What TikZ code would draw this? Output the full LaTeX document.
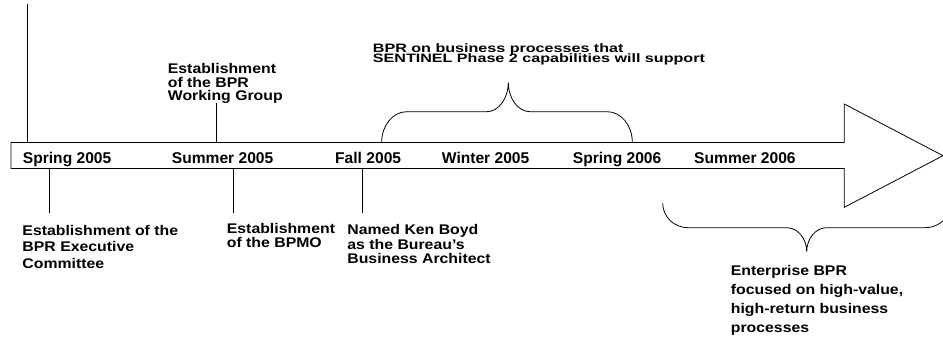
\documentclass[tikz,border=0pt]{standalone}
\usepackage{fontspec}
\setmainfont{Liberation Sans}
\newfontfamily\notefont{Liberation Sans}[FakeStretch=1.13]
\newfontfamily\widefont{Liberation Sans}[FakeStretch=1.32]
\begin{document}
\begin{tikzpicture}[x=1pt,y=-1pt,
  outline/.style={draw=black,line width=0.8pt,line join=miter},
  tick/.style={draw=black,line width=0.8pt},
  brace/.style={draw=black,line width=0.8pt},
  season/.style={font=\bfseries\fontsize{15.6}{18}\selectfont,inner sep=0pt,anchor=base west},
  % multi-line notes are placed by the baseline of their last line
  note/.style={font={\notefont\bfseries\fontsize{14}{#1}\selectfont\lineskiplimit=-30pt},
    align=left,inner sep=0pt,anchor=base west},
  widenote/.style={font={\widefont\bfseries\fontsize{12.2}{#1}\selectfont\lineskiplimit=-30pt},
    align=left,inner sep=0pt,anchor=base west}]
\useasboundingbox (0,0) rectangle (943,339);
\clip (0,0) rectangle (943,339);

% timeline arrow
\draw[outline] (11,142.5) -- (844.3,142.5) -- (844.3,104) -- (943,155.7)
  -- (844.3,207.3) -- (844.3,168.5) -- (11,168.5) -- cycle;

% season labels
\node[season] (sp05) at (22.7,163.8) {Spring 2005};
\node[season] (su05) at (171.7,163.8) {Summer 2005};
\node[season] (fa05) at (335,163.8) {Fall 2005};
\node[season] (wi05) at (441.7,163.8) {Winter 2005};
\node[season] (sp06) at (572.7,163.8) {Spring 2006};
\node[season] (su06) at (694,163.8) {Summer 2006};

% milestone ticks
\coordinate (lineTop) at (27.3,4.3);
\coordinate (lineBot) at (27.3,142.5);
\draw[tick] (lineTop) -- (lineBot);

\coordinate (wgA) at (216.7,103);
\coordinate (wgB) at (216.7,142.5);
\draw[tick] (wgA) -- (wgB);

\coordinate (exA) at (49.3,168.5);
\coordinate (exB) at (49.3,212.7);
\draw[tick] (exA) -- (exB);

\coordinate (pmA) at (233.3,168.5);
\coordinate (pmB) at (233.3,212.7);
\draw[tick] (pmA) -- (pmB);

\coordinate (kbA) at (362.7,168.5);
\coordinate (kbB) at (362.7,212.7);
\draw[tick] (kbA) -- (kbB);

% milestone notes
\node[note=13.3] (wg) at (167.7,100.6) {Establishment\\of the BPR\\Working Group};
\node[note=16.7] (ex) at (22.3,268.4) {Establishment of the\\BPR Executive\\Committee};
\node[note=13.3] (pm) at (226.7,247.3) {Establishment\\of the BPMO};
\node[note=14.2] (kb) at (347.2,263.4) {Named Ken Boyd\\as the Bureau’s\\Business Architect};

% brace over Fall 2005 -- Spring 2006
\draw[brace] (381.7,142) .. controls (381.7,125.5) and (392.9,111.7) .. (406.7,111.7)
  -- (486.7,111.7) .. controls (498.6,111.7) and (508.3,98.5) .. (508.3,82.3)
  .. controls (508.3,98.5) and (518,111.7) .. (530,111.7)
  -- (607.3,111.7) .. controls (621.1,111.7) and (632.3,125.5) .. (632.3,142);
\node[widenote=9.8] (s2) at (372.7,62.3) {BPR on business processes that\\SENTINEL Phase 2 capabilities will support};

% brace under Summer 2006 onwards
\draw[brace] (662.7,203.3) .. controls (662.7,216.7) and (674,227.7) .. (688,227.7)
  -- (786.7,227.7) .. controls (797.7,227.7) and (806.7,238.5) .. (806.7,251.7)
  .. controls (806.7,238.5) and (815.7,227.7) .. (826.7,227.7)
  -- (925.4,227.7) .. controls (939.4,227.7) and (950.7,216.7) .. (950.7,203.3);
\node[note=19.3] (ent) at (730.7,332.9) {Enterprise BPR\\focused on high-value,\\high-return business\\processes};
\end{tikzpicture}
\end{document}
